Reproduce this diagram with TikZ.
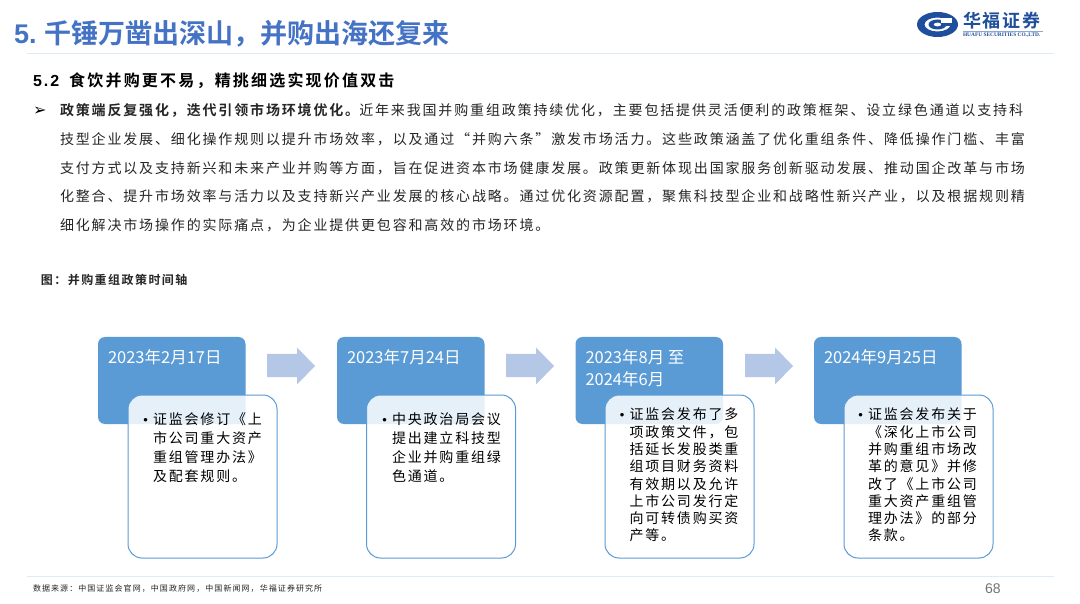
\documentclass[tikz,border=0pt]{standalone}
\usepackage{fontspec}
\usetikzlibrary{calc}
\setmainfont{Noto Sans CJK SC}
\newfontfamily\sansfam{Liberation Sans}
\newfontfamily\serifam{Liberation Serif}
\newfontfamily\cjktitle[BoldFont={Noto Sans CJK SC Bold}]{Noto Sans CJK SC}
\newfontfamily\cjkbody[LetterSpace=13.2,BoldFont={Noto Sans CJK SC Bold}]{Noto Sans CJK SC}
\newfontfamily\cjkbox[LetterSpace=13]{Noto Sans CJK SC}
\newfontfamily\cjkhead[LetterSpace=13.7,BoldFont={Noto Sans CJK SC Bold}]{Noto Sans CJK SC}
\newfontfamily\cjkcap[LetterSpace=12,BoldFont={Noto Sans CJK SC Bold}]{Noto Sans CJK SC}
\newfontfamily\cjksrc[LetterSpace=13.4]{Noto Sans CJK SC}
\newfontfamily\cjklogo[LetterSpace=11,BoldFont={Noto Sans CJK SC Bold}]{Noto Sans CJK SC}
\newfontfamily\dejavu{DejaVu Sans}
\definecolor{titleblue}{HTML}{4472C4}
\definecolor{boxblue}{HTML}{5B9BD5}
\definecolor{arrowblue}{HTML}{B4C7E7}
\definecolor{rulecol}{HTML}{DEEBF7}
\definecolor{logoblue}{HTML}{1F4E9C}
\definecolor{bodytext}{HTML}{262626}
\tikzset{
  x=1pt,y=-1pt,
  datebox/.style={fill=boxblue,rounded corners=7pt,draw=none},
  notebox/.style={fill=white,fill opacity=0.85,draw=boxblue,line width=1pt,rounded corners=14pt},
  blockarrow/.style={fill=arrowblue,draw=none},
  plain/.style={inner sep=0pt,outer sep=0pt,anchor=west},
  datetext/.style={plain,text=white,align=left,font=\cjktitle\fontsize{16.5}{22}\selectfont},
  boxtext/.style={inner sep=0pt,outer sep=0pt,anchor=north west,align=left,text=black},
  bodyline/.style={plain,text=bodytext,font=\cjkbody\fontsize{14}{14}\selectfont},
  rulestyle/.style={draw=rulecol,line width=1pt}
}
\newcommand{\bul}{\makebox[0pt][r]{\sansfam\fontsize{13}{13}\selectfont\textbullet\hspace{5pt}}}
\newcommand{\stageA}[4]{%
  \path[datebox] (#2,337) rectangle (#2+147.5,424);
  \node[datetext] (date#1) at (#2+10,#3) {#4};
}
\newcommand{\stageB}[1]{%
  \path[notebox] (#1,395) rectangle (#1+149,558);
}
\newcommand{\barrow}[1]{%
  \path[blockarrow] (#1,354) -- (#1+30,354) -- (#1+30,347.5) -- (#1+48,366) -- (#1+30,384.5) -- (#1+30,377) -- (#1,377) -- cycle;
}
\begin{document}
\begin{tikzpicture}
\useasboundingbox (0,0) rectangle (1080,604);
\path[fill=white] (0,0) rectangle (1080,604);

% Header
\node[plain,text=titleblue,font=\sansfam\bfseries\fontsize{27}{27}\selectfont] (title) at (14,33.5) {5.\hspace{8pt}{\cjktitle\bfseries 千锤万凿出深山，并购出海还复来}};
\draw[rulestyle] (27,54) -- (1054,54);

% Logo
\begin{scope}
  \path[fill=logoblue,even odd rule] (937.5,24.5) ellipse [x radius=20.5,y radius=12.5] (937.5,24.5) ellipse [x radius=13,y radius=7];
  \path[fill=logoblue,even odd rule] (937.5,24.5) ellipse [x radius=9,y radius=5] (937.5,24.5) ellipse [x radius=4,y radius=2];
  \path[fill=white] (941,18) rectangle (952,23);
  \path[fill=logoblue] (941,23) rectangle (952,26);
\end{scope}
\node[plain,text=logoblue,font=\cjklogo\bfseries\fontsize{18}{18}\selectfont] (logotext) at (963,21) {华福证券};
\node[plain,text=logoblue,font=\serifam\bfseries\fontsize{5.4}{5.4}\selectfont] (logosub) at (963,35) {HUAFU SECURITIES CO.,LTD.};
\draw[draw=logoblue!50,line width=0.4pt] (963,31) -- (1043,31);

% Section heading
\node[plain,text=black,font=\sansfam\bfseries\fontsize{16}{16}\selectfont] (heading) at (33,81) {5\hspace{2pt}.\hspace{2pt}2\hspace{10pt}{\cjkhead\bfseries 食饮并购更不易，精挑细选实现价值双击}};

% Body
\node[plain,text=black,font=\dejavu\fontsize{16}{16}\selectfont] (bullet) at (33,111) {➢};
\node[bodyline] (l1) at (60,110.5) {{\bfseries 政策端反复强化，迭代引领市场环境优化。}近年来我国并购重组政策持续优化，主要包括提供灵活便利的政策框架、设立绿色通道以支持科};
\node[bodyline] (l2) at (60,139.5) {技型企业发展、细化操作规则以提升市场效率，以及通过“并购六条”激发市场活力。这些政策涵盖了优化重组条件、降低操作门槛、丰富};
\node[bodyline] (l3) at (60,168) {支付方式以及支持新兴和未来产业并购等方面，旨在促进资本市场健康发展。政策更新体现出国家服务创新驱动发展、推动国企改革与市场};
\node[bodyline] (l4) at (60,196.5) {化整合、提升市场效率与活力以及支持新兴产业发展的核心战略。通过优化资源配置，聚焦科技型企业和战略性新兴产业，以及根据规则精};
\node[bodyline] (l5) at (60,225.5) {细化解决市场操作的实际痛点，为企业提供更包容和高效的市场环境。};

% Caption
\node[plain,text=bodytext,font=\cjkcap\bfseries\fontsize{12}{12}\selectfont] (caption) at (41,280) {图：并购重组政策时间轴};

% Stages
\stageA{1}{98}{357}{2023年2月17日}
\stageA{2}{337}{357}{2023年7月24日}
\stageA{3}{575.5}{368}{2023年8月 至\\2024年6月}
\stageA{4}{814}{357}{2024年9月25日}
\stageB{128}
\stageB{366.5}
\stageB{605}
\stageB{844}
\barrow{267}
\barrow{506}
\barrow{745}

\node[boxtext,font=\cjkbox\fontsize{14}{19}\selectfont] (note1) at (153,413) {\bul 证监会修订《上\\市公司重大资产\\重组管理办法》\\及配套规则。};
\node[boxtext,font=\cjkbox\fontsize{14}{19}\selectfont] (note2) at (392,413) {\bul 中央政治局会议\\提出建立科技型\\企业并购重组绿\\色通道。};
\node[boxtext,font=\cjkbox\fontsize{14}{17.3}\selectfont] (note3) at (629.5,408) {\bul 证监会发布了多\\项政策文件，包\\括延长发股类重\\组项目财务资料\\有效期以及允许\\上市公司发行定\\向可转债购买资\\产等。};
\node[boxtext,font=\cjkbox\fontsize{14}{17.3}\selectfont] (note4) at (868,408) {\bul 证监会发布关于\\《深化上市公司\\并购重组市场改\\革的意见》并修\\改了《上市公司\\重大资产重组管\\理办法》的部分\\条款。};

% Footer
\draw[rulestyle] (27,576) -- (1054,576);
\node[plain,text=bodytext,font=\cjksrc\fontsize{8}{8}\selectfont] (source) at (33,589) {数据来源：中国证监会官网，中国政府网，中国新闻网，华福证券研究所};
\node[plain,text=black!55,font=\sansfam\fontsize{14}{14}\selectfont] (pagenum) at (985,589) {68};
\end{tikzpicture}
\end{document}
